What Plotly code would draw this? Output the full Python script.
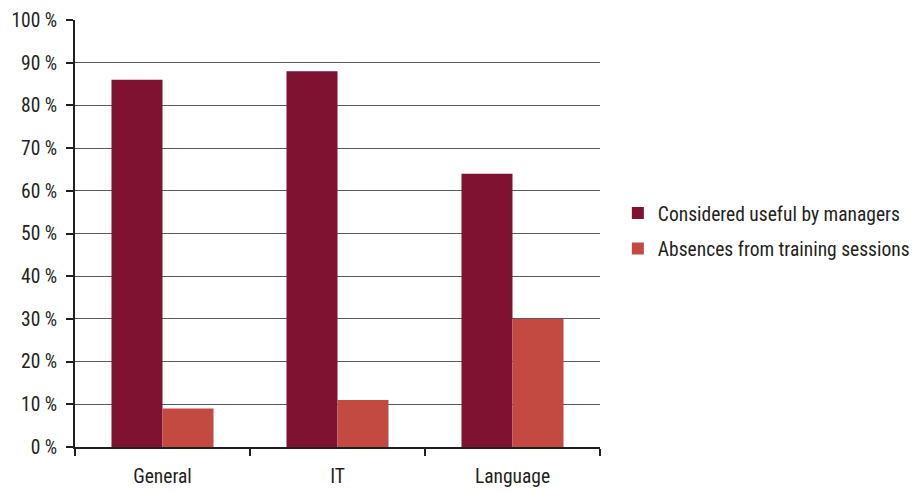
import plotly.graph_objects as go

categories = ["General", "IT", "Language"]
useful = [86, 88, 64]
absences = [9, 11, 30]
series_names = ["Considered useful by managers", "Absences from training sessions"]

FONT = "Liberation Sans Narrow, Roboto Condensed, Arial Narrow, sans-serif"
TXT = "#231F20"

fig = go.Figure()
fig.add_trace(go.Bar(x=categories, y=useful, name=series_names[0], legendgroup="a",
                     marker=dict(color="#7F1230", line=dict(width=0))))
fig.add_trace(go.Bar(x=categories, y=absences, name=series_names[1], legendgroup="b",
                     marker=dict(color="#C24A40", line=dict(width=0))))

fig.update_layout(
    width=919, height=493,
    margin=dict(l=67, r=327, t=12, b=54),
    paper_bgcolor="white", plot_bgcolor="white",
    barmode="group", bargap=0.417, bargroupgap=0,
    font=dict(family=FONT, size=19, color=TXT),
    legend=dict(x=1.034, y=0.506, xanchor="left", yanchor="middle",
                font=dict(family=FONT, size=19.5, color=TXT),
                tracegroupgap=7,
                bgcolor="rgba(0,0,0,0)"),
    xaxis=dict(type="category", tickson="boundaries", ticks="outside", ticklen=7,
               tickwidth=2, tickcolor=TXT, showline=True, linecolor=TXT,
               linewidth=2, showgrid=False, ticklabelstandoff=11, automargin=False,
               tickfont=dict(family=FONT, size=19.5, color=TXT)),
    yaxis=dict(range=[0, 100], dtick=10, ticksuffix=" %", ticks="outside", ticklen=7,
               tickwidth=2, tickcolor=TXT, showline=True, linecolor=TXT,
               linewidth=2, showgrid=True, gridcolor="#5a5a5a", gridwidth=1.2,
               zeroline=False, ticklabelstandoff=5, automargin=False,
               tickfont=dict(family=FONT, size=19.5, color=TXT)),
)

fig.write_html("out.html")
